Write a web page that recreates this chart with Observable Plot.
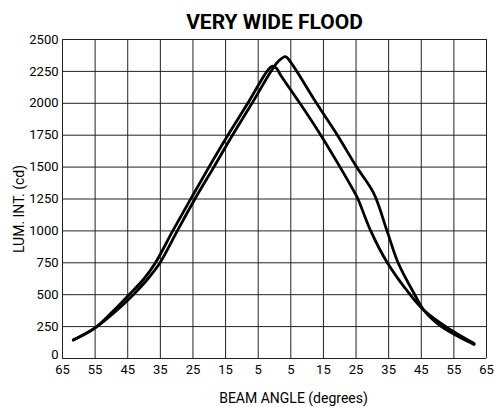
<!DOCTYPE html>
<html>
<head>
<meta charset="utf-8">
<script src="https://cdn.jsdelivr.net/npm/d3@7"></script>
<script src="https://cdn.jsdelivr.net/npm/@observablehq/plot@0.6"></script>
<style>
  html, body { margin: 0; padding: 0; background: #fff; }
  #chart svg { display: block; }
</style>
</head>
<body>
<div id="chart"></div>
<script>
const title = "VERY WIDE FLOOD";
const xLabel = "BEAM ANGLE (degrees)";
const yLabel = "LUM. INT. (cd)";

const xTicks = [-65, -55, -45, -35, -25, -15, -5, 5, 15, 25, 35, 45, 55, 65];
const yTicks = [0, 250, 500, 750, 1000, 1250, 1500, 1750, 2000, 2250, 2500];

const angleA = [-61.7, -55, -49.3, -44.6, -40.0, -36.5, -31.2, -25.7, -20.1, -14.3, -8.2, -2.3, -0.8, 0.6, 1.9, 7.8, 14.2, 20.1, 24.8, 25.6, 29.5, 34.6, 41.6, 45.9, 52.5, 61.2];
const lumA   = [145, 240, 376, 500, 625, 750, 1000, 1250, 1500, 1750, 2000, 2250, 2290, 2275, 2220, 2000, 1750, 1500, 1290, 1250, 1000, 750, 500, 376, 250, 118];

const angleB = [-61.7, -55, -48.4, -43.3, -38.8, -35.1, -29.8, -24.4, -18.6, -12.9, -6.9, -1.1, 1.2, 3.4, 5.0, 12.9, 19.3, 25.2, 30.5, 34.5, 37.9, 43.0, 45.9, 51.2, 61.2];
const lumB   = [145, 240, 376, 500, 625, 750, 1000, 1250, 1500, 1750, 2000, 2250, 2330, 2365, 2320, 2000, 1750, 1500, 1291, 1000, 750, 500, 376, 250, 110];

const curveA = angleA.map((a, i) => ({angle: a, lum: lumA[i]}));
const curveB = angleB.map((a, i) => ({angle: a, lum: lumB[i]}));

const font = "Roboto, 'Liberation Sans', sans-serif";

const chart = Plot.plot({
  width: 494,
  height: 407,
  marginLeft: 62,
  marginRight: 8,
  marginTop: 39,
  marginBottom: 49,
  style: {fontFamily: font, fontSize: "13px", color: "#000", background: "#fff"},
  x: {domain: [-65, 65], label: null},
  y: {domain: [0, 2500], label: null},
  marks: [
    Plot.ruleX(xTicks, {stroke: "#222", strokeWidth: 1}),
    Plot.ruleY(yTicks, {stroke: "#222", strokeWidth: 1}),
    Plot.axisX(xTicks, {tickFormat: d => String(Math.abs(d)), tickSize: 0, tickPadding: 6, label: null}),
    Plot.axisY(yTicks.filter(d => d > 0), {tickFormat: d => String(d), tickSize: 0, tickPadding: 4, label: null}),
    Plot.axisY(yTicks.filter(d => d === 0), {tickFormat: d => String(d), tickSize: 0, tickPadding: 4, label: null, dy: -4}),
    Plot.line(curveA, {x: "angle", y: "lum", curve: "catmull-rom", stroke: "#000", strokeWidth: 2.8}),
    Plot.line(curveB, {x: "angle", y: "lum", curve: "catmull-rom", stroke: "#000", strokeWidth: 2.8}),
    Plot.text([title], {frameAnchor: "top", dy: -17, text: d => d, fontSize: 21, fontWeight: "bold", lineAnchor: "middle"}),
    Plot.text([xLabel], {frameAnchor: "bottom", dx: 19, dy: 40, text: d => d, fontSize: 14, lineAnchor: "middle", textAnchor: "middle"}),
    Plot.text([yLabel], {frameAnchor: "left", dx: -43, dy: 10, rotate: -90, text: d => d, fontSize: 14, lineAnchor: "middle", textAnchor: "middle"})
  ]
});
document.getElementById("chart").appendChild(chart);
</script>
</body>
</html>
